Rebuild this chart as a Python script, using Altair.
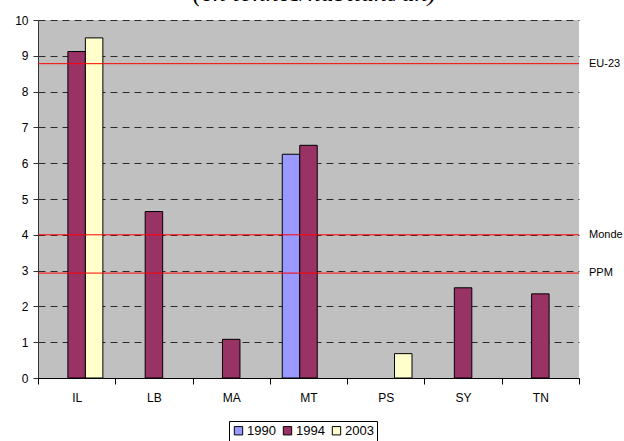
import altair as alt
import pandas as pd

# Per-capita values by country and year (tonnes/inhabitant/year)
countries = ["IL", "IL", "LB", "MA", "MT", "MT", "PS", "SY", "TN"]
years = ["1994", "2003", "1994", "1994", "1990", "1994", "2003", "1994", "1994"]
values = [9.12, 9.5, 4.65, 1.08, 6.25, 6.5, 0.68, 2.52, 2.35]

# Reference levels drawn as horizontal lines
ref_names = ["EU-23", "Monde", "PPM"]
ref_values = [8.78, 4.0, 2.93]

category_order = ["IL", "LB", "MA", "MT", "PS", "SY", "TN"]
year_order = ["1990", "1994", "2003"]
year_colors = ["#9999FF", "#993366", "#FFFFCC"]
y_ticks = [0, 1, 2, 3, 4, 5, 6, 7, 8, 9, 10]

bars_df = pd.DataFrame({"pays": countries, "annee": years, "valeur": values})
refs_df = pd.DataFrame({"nom": ref_names, "valeur": ref_values})

W, H = 541, 358

y_scale = alt.Scale(domain=[0, 10], nice=False, zero=True)
y_axis = alt.Axis(title=None, values=y_ticks, grid=True, labelOverlap=False,
                  gridDash=[7, 5], gridColor="#2a2a2a", gridWidth=1,
                  domainColor="#333333", tickColor="#333333", tickSize=5,
                  labelPadding=5, labelFontSize=12, labelColor="black")

bars = alt.Chart(bars_df).mark_bar(stroke="black", strokeWidth=1).encode(
    x=alt.X("pays:N", sort=category_order,
            scale=alt.Scale(domain=category_order, paddingInner=0, paddingOuter=0),
            axis=alt.Axis(title=None, labelAngle=0, tickBand="extent", grid=False,
                          domainColor="black", tickColor="black", tickSize=6,
                          labelPadding=8, labelFontSize=12, labelColor="black")),
    xOffset=alt.XOffset("annee:N", sort=year_order,
                        scale=alt.Scale(domain=year_order, paddingInner=0, paddingOuter=0.71)),
    y=alt.Y("valeur:Q", scale=y_scale, axis=y_axis),
    color=alt.Color("annee:N", sort=year_order,
                    scale=alt.Scale(domain=year_order, range=year_colors),
                    legend=alt.Legend(title=None, orient="none", legendX=191, legendY=401,
                                      direction="horizontal", columns=3,
                                      strokeColor="black", padding=3,
                                      symbolType="square", symbolSize=70,
                                      symbolStrokeColor="black", symbolStrokeWidth=1,
                                      labelFontSize=13, labelColor="black",
                                      labelOffset=2, columnPadding=5)),
)

rules = alt.Chart(refs_df).mark_rule(color="#FF0000", strokeWidth=1).encode(
    y=alt.Y("valeur:Q", scale=y_scale, axis=y_axis)
)

ref_labels = alt.Chart(refs_df).mark_text(
    align="left", baseline="middle", fontSize=11, color="black"
).encode(
    x=alt.value(W + 10),
    y=alt.Y("valeur:Q", scale=y_scale, axis=y_axis),
    text="nom:N",
)

chart = alt.layer(bars, rules, ref_labels).properties(
    width=W,
    height=H,
    padding={"left": 38, "top": 20, "right": 45, "bottom": 63},
    autosize=alt.AutoSizeParams(type="none"),
    title=alt.Title("(en tonnes/habitant/an)", font="Liberation Serif", fontSize=26,
                    fontStyle="italic", fontWeight="normal", color="#000000",
                    baseline="alphabetic", offset=0, dx=6, dy=13),
).configure(
    font="Liberation Sans",
).configure_view(
    fill="#C0C0C0", stroke=None,
)

chart.save("out.html", embed_options={"renderer": "svg", "actions": False})
